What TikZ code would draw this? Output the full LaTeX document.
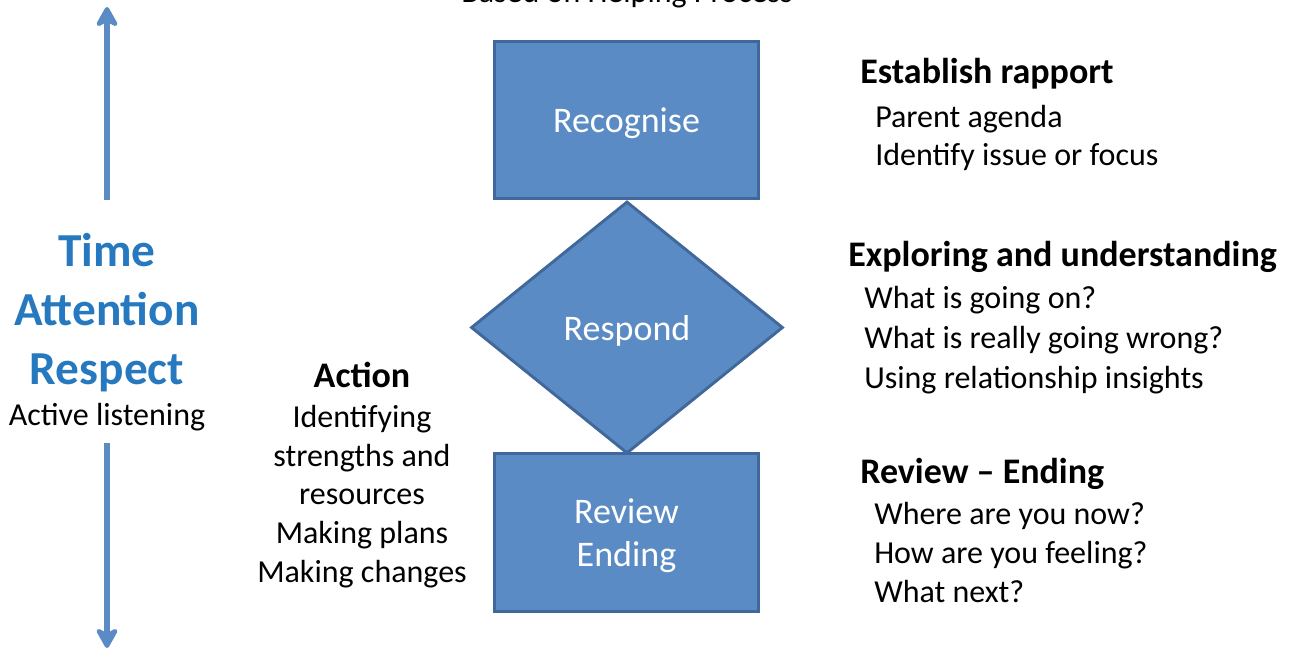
\documentclass[tikz,border=0pt]{standalone}
\usepackage{fontspec}
\setmainfont{Carlito}
\usetikzlibrary{shapes.geometric,arrows.meta}

\definecolor{boxfill}{RGB}{91,139,197}
\definecolor{boxline}{RGB}{65,104,154}
\definecolor{keyblue}{RGB}{38,121,191}

\tikzset{
  stagebox/.style={rectangle, fill=boxfill, draw=boxline, line width=2.2pt,
    minimum width=198pt, minimum height=118pt, inner sep=0pt, text depth=0pt,
    text=white, align=center, font=\fontsize{27}{32}\selectfont},
  stagediamond/.style={diamond, fill=boxfill, draw=boxline, line width=2.2pt,
    minimum width=234pt, minimum height=189pt, inner sep=0pt, text depth=0pt,
    text=white, font=\fontsize{27}{32}\selectfont},
  headtext/.style={anchor=west, inner sep=0pt, font=\bfseries\fontsize{27}{32}\selectfont},
  bodytext/.style={anchor=west, inner sep=0pt, align=left, font=\fontsize{24}{29.5}\selectfont},
  keyarrow/.style={draw=boxfill, line width=4.5pt,
    -{Stealth[length=18pt, width=20pt, inset=5pt, round]}}
}

\begin{document}
\begin{tikzpicture}[x=0.75pt,y=0.75pt,yscale=-1,xscale=1]
\useasboundingbox (0,0) rectangle (1290,668);
\clip (0,0) rectangle (1290,668);

% Title, cut by the top edge
\draw (627,2) node (basis) [anchor=base, inner sep=0pt, font=\fontsize{24}{29}\selectfont] {Based on Helping Process};

%Shape: Diamond
\draw (627,327.5) node (respond) [stagediamond] {Respond};
%Shape: Rectangle
\draw (626.5,120) node (recognise) [stagebox] {Recognise};
%Shape: Rectangle
\draw (626.5,532.5) node (review) [stagebox] {Review\\Ending};

% Left side
\draw (107,312.5) node (keys) [inner sep=0pt, align=center, text=keyblue, font=\bfseries\fontsize{35.5}{44}\selectfont] {Time\\Attention\\Respect};
\draw (107,417) node (listening) [inner sep=0pt, font=\fontsize{24}{29}\selectfont] {Active listening};
\coordinate (uptop) at (107,7);
\coordinate (upfoot) at (107,200);
\coordinate (downtop) at (107,443);
\coordinate (downfoot) at (107,648);
%Arrows
\draw [keyarrow] (upfoot) -- (uptop);
\draw [keyarrow] (downtop) -- (downfoot);

% Text Node
\draw (362,375) node (action) [headtext, anchor=center] {Action};
% Text Node
\draw (362,496.5) node (actionlist) [bodytext, anchor=center, align=center, font=\fontsize{24}{29}\selectfont] {Identifying\\strengths and\\resources\\Making plans\\Making changes};

% Text Node
\draw (860,74) node (rapport) [headtext] {Establish rapport};
% Text Node
\draw (875,138) node (rapportlist) [bodytext, font=\fontsize{24}{29}\selectfont] {Parent agenda\\Identify issue or focus};
% Text Node
\draw (848,257) node (exploring) [headtext] {Exploring and understanding};
% Text Node
\draw (864,340) node (exploringlist) [bodytext, font=\fontsize{24}{30}\selectfont] {What is going on?\\What is really going wrong?\\Using relationship insights};
% Text Node
\draw (860,474) node (ending) [headtext] {Review -- Ending};
% Text Node
\draw (874,552.5) node (endinglist) [bodytext, font=\fontsize{24}{29}\selectfont] {Where are you now?\\How are you feeling?\\What next?};

\end{tikzpicture}
\end{document}
